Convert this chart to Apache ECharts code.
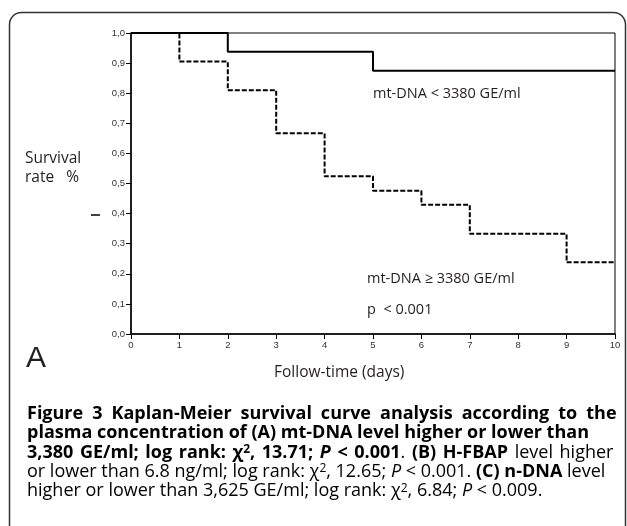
<!DOCTYPE html>
<html>
<head>
<meta charset="utf-8">
<script src="https://cdn.jsdelivr.net/npm/echarts@6/dist/echarts.min.js"></script>
<style>
  html, body { margin: 0; padding: 0; background: #fff; }
  #main { width: 627px; height: 526px; }
</style>
</head>
<body>
<div id="main"></div>
<script>
// follow-up days and survival rates
const lowDays = [0, 2, 5, 10]
const lowSurv = [1.0, 0.9375, 0.875, 0.875]
const highDays = [0, 1, 2, 3, 4, 5, 6, 7, 9, 10]
const highSurv = [1.0, 0.905, 0.81, 0.667, 0.524, 0.476, 0.429, 0.333, 0.238, 0.238]
const xTicks = [0, 10, 1]      // min, max, interval
const yTicks = [0, 1, 0.1]

const pairs = (xs, ys) => xs.map((x, i) => [x, ys[i]])

const FONT = '"Open Sans", "Noto Sans", sans-serif'
const INK = '#231f20'
const CAP = 18

// caption lines: [style, text] pieces, and the space width used to justify (null = ragged)
const captionLines = [
  [[['b', 'Figure 3 Kaplan-Meier survival curve analysis according to the']], 'sp1'],
  [[['b', 'plasma concentration of (A) mt-DNA level higher or lower than']], null],
  [[['b', '3,380 GE/ml; log rank: χ'], ['bs', '2'], ['b', ', 13.71; '], ['bi', 'P'], ['b', ' < 0.001'],
    ['n', '. '], ['b', '(B) H-FBAP'], ['n', ' level higher']], 'sp3'],
  [[['n', 'or lower than 6.8 ng/ml; log rank: χ'], ['ns', '2'], ['n', ', 12.65; '], ['i', 'P'],
    ['n', ' < 0.001. '], ['b', '(C) n-DNA'], ['n', ' level']], null],
  [[['n', 'higher or lower than 3,625 GE/ml; log rank: χ'], ['ns', '2'], ['n', ', 6.84; '], ['i', 'P'],
    ['n', ' < 0.009.']], null]
]

const capStyles = {
  b: { fontWeight: 'bold', fontSize: CAP, fontFamily: FONT, color: INK },
  bi: { fontWeight: 'bold', fontStyle: 'italic', fontSize: CAP, fontFamily: FONT, color: INK },
  n: { fontSize: CAP, fontFamily: FONT, color: INK },
  i: { fontStyle: 'italic', fontSize: CAP, fontFamily: FONT, color: INK },
  bs: { fontWeight: 'bold', fontSize: 12, fontFamily: FONT, color: INK, verticalAlign: 'top' },
  ns: { fontSize: 12, fontFamily: FONT, color: INK, verticalAlign: 'top' },
  sp1: { fontSize: CAP, fontFamily: FONT, width: 9 },
  sp3: { fontSize: CAP, fontFamily: FONT, width: 6.6 }
}

const richLine = (segs, sp) => segs.map(([st, txt]) => {
  if (!sp) return '{' + st + '|' + txt + '}'
  return txt.split(' ').map(w => w ? '{' + st + '|' + w + '}' : '').join('{' + sp + '| }')
}).join('')

const chart = echarts.init(document.getElementById('main'))

const label = (text, x, y, size, family) => ({
  type: 'text', left: x, top: y,
  style: { text, fontSize: size, fontFamily: family || FONT, fill: INK, textVerticalAlign: 'middle' }
})

const graphics = [
  { type: 'rect', shape: { x: 9.5, y: 12.5, width: 616, height: 540, r: 12 },
    style: { fill: 'none', stroke: '#333', lineWidth: 1.5 }, silent: true },
  { type: 'line', shape: { x1: 91, y1: 215, x2: 100, y2: 215 }, style: { stroke: '#000', lineWidth: 1.5 } },
  label('Survival', 25, 151, 15.5),
  label('rate   %', 25, 170, 15.5),
  label('mt-DNA < 3380 GE/ml', 373, 86, 14.5),
  label('mt-DNA ≥ 3380 GE/ml', 367, 271, 14.5),
  label('p  < 0.001', 367, 302, 14.5),
  label('A', 26, 344, 30, '"Liberation Sans", Arial, sans-serif'),
  label('Follow-time (days)', 274, 365, 15.5)
]
captionLines.forEach(([segs, sp], k) => {
  graphics.push({
    type: 'text', left: 27, top: 405 + k * 19.3,
    style: { text: richLine(segs, sp), rich: capStyles }
  })
})

const axisCommon = {
  type: 'value',
  splitLine: { show: false },
  axisLine: { show: true, lineStyle: { color: '#000', width: 1.5 } },
  axisTick: { show: true, length: 5, lineStyle: { color: '#000' } },
  axisLabel: { fontSize: 9.5, color: '#333', fontFamily: '"Liberation Sans", Arial, sans-serif', margin: 6 }
}

chart.setOption({
  animation: false,
  backgroundColor: '#fff',
  grid: { left: 131, right: 12, top: 33, bottom: 192, show: true, borderColor: '#000', borderWidth: 1 },
  xAxis: Object.assign({}, axisCommon, {
    min: xTicks[0], max: xTicks[1], interval: xTicks[2]
  }),
  yAxis: Object.assign({}, axisCommon, {
    min: yTicks[0], max: yTicks[1], interval: yTicks[2],
    axisLabel: Object.assign({}, axisCommon.axisLabel, {
      formatter: v => v.toFixed(1).replace('.', ',')
    })
  }),
  series: [
    {
      name: 'mt-DNA < 3380 GE/ml', type: 'line', step: 'end', symbol: 'none',
      data: pairs(lowDays, lowSurv),
      lineStyle: { color: '#000', width: 2 }
    },
    {
      name: 'mt-DNA ≥ 3380 GE/ml', type: 'line', step: 'end', symbol: 'none',
      data: pairs(highDays, highSurv),
      lineStyle: { color: '#000', width: 2, type: [5, 2] }
    }
  ],
  graphic: graphics
})
</script>
</body>
</html>
